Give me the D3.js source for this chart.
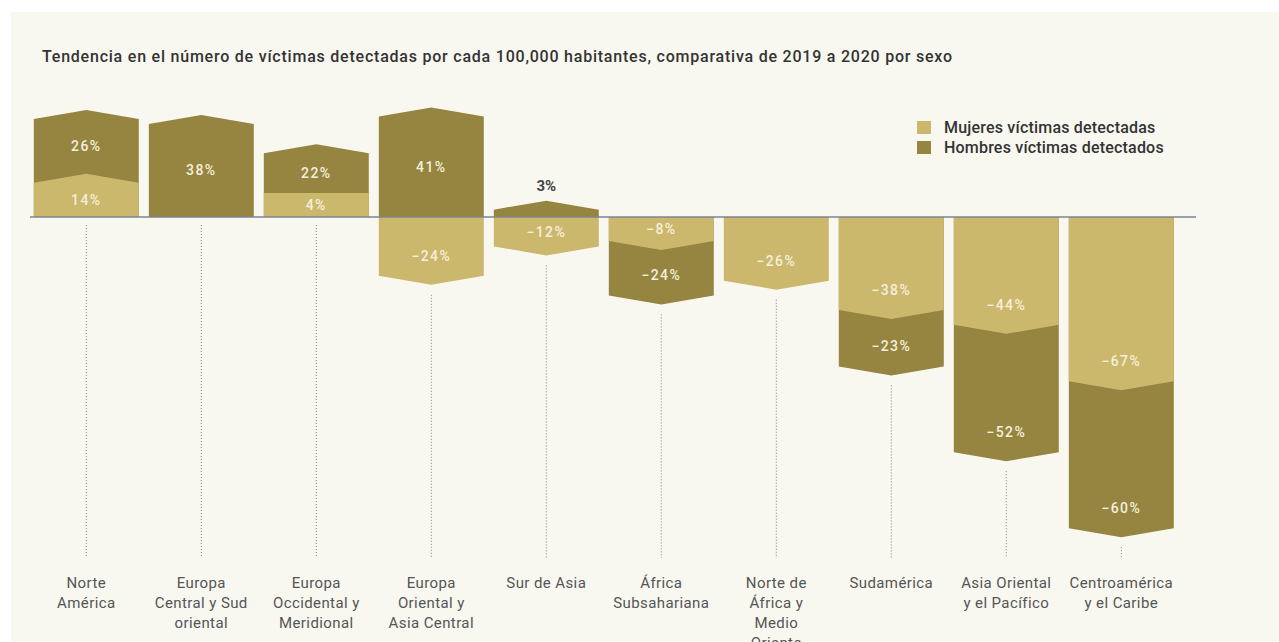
<!DOCTYPE html>
<html>
<head>
<meta charset="utf-8">
<script src="https://cdn.jsdelivr.net/npm/d3@7"></script>
<style>
  body { margin: 0; background: #ffffff; }
  svg text { font-family: Roboto, "Noto Sans", sans-serif; }
</style>
</head>
<body>
<div id="chart"></div>
<script>
const width = 1279;
const height = 642;

const categories = [
    "Norte América", "Europa Central y Sud oriental", "Europa Occidental y Meridional",
    "Europa Oriental y Asia Central", "Sur de Asia", "África Subsahariana",
    "Norte de África y Medio Oriente", "Sudamérica", "Asia Oriental y el Pacífico",
    "Centroamérica y el Caribe"
];
const categoryLines = [
    ["Norte", "América"], ["Europa", "Central y Sud", "oriental"], ["Europa", "Occidental y", "Meridional"],
    ["Europa", "Oriental y", "Asia Central"], ["Sur de Asia"], ["África", "Subsahariana"],
    ["Norte de", "África y", "Medio", "Oriente"], ["Sudamérica"], ["Asia Oriental", "y el Pacífico"],
    ["Centroamérica", "y el Caribe"]
];
// % change 2019 -> 2020 (null = not reported)
const women = [14, null, 4, -24, -12, -8, -26, -38, -44, -67];
const men   = [26, 38, 22, 41, 3, -24, null, -23, -52, -60];

const legendLabels = ["Mujeres víctimas detectadas", "Hombres víctimas detectados"];
const colWomen = "#ccb86c";
const colMen = "#968540";

const svg = d3.select("#chart").append("svg")
    .attr("width", width)
    .attr("height", height);

// panel
svg.append("rect")
    .attr("x", 11).attr("y", 12)
    .attr("width", width - 11).attr("height", height - 13)
    .attr("fill", "#f8f8f0");

svg.append("text")
    .attr("x", 42).attr("y", 62)
    .attr("font-size", 16).attr("font-weight", 500)
    .attr("fill", "#333")
    .attr("textLength", 910)
    .attr("lengthAdjust", "spacing")
    .text("Tendencia en el número de víctimas detectadas por cada 100,000 habitantes, comparativa de 2019 a 2020 por sexo");

const x = d3.scaleBand()
    .domain(categories)
    .range([28.8, 1178.8])
    .paddingInner(0.087)
    .paddingOuter(0.0435);

const y = d3.scaleLinear()
    .domain([-70, 45])
    .range([217 + 171.5, 217 - 110.25]);

const tip = 9;
const minLabelH = 24;

// build segments
const bars = categories.map((c, i) => {
    const w = women[i], m = men[i];
    const segs = [];
    // men: stacked on women when same sign
    if (m !== null) {
        const base = (w !== null && Math.sign(w) === Math.sign(m)) ? w : 0;
        segs.push({ key: "m", v: m, from: base, to: base + m, color: colMen });
    }
    if (w !== null) segs.push({ key: "w", v: w, from: 0, to: w, color: colWomen });
    return { cat: c, i, segs };
});

function shapePath(x0, x1, y0, yEdge, dir, pointed) {
    const xc = (x0 + x1) / 2;
    const p = d3.path();
    p.moveTo(x0, y0);
    p.lineTo(x0, yEdge);
    if (pointed) p.lineTo(xc, yEdge + dir * tip);
    p.lineTo(x1, yEdge);
    p.lineTo(x1, y0);
    p.closePath();
    return p.toString();
}

const fmt = v => (v < 0 ? "\u2212" + Math.abs(v) : v) + "%";

const g = svg.append("g");
bars.forEach(b => {
    const x0 = x(b.cat), x1 = x0 + x.bandwidth(), xc = x0 + x.bandwidth() / 2;
    const bg = g.append("g");
    let outerTip = y(0);
    b.segs.forEach(s => {
        const dir = s.to < 0 ? 1 : -1;
        let yEdge = y(s.to);
        let pointed = true;
        if (s.key === "w") {
            const h = Math.abs(y(s.to) - y(0));
            if (h < minLabelH) {
                pointed = h >= 15;
                yEdge = y(0) + dir * minLabelH;
            }
        }
        bg.append("path")
            .attr("d", shapePath(x0, x1, y(0), yEdge, dir, pointed))
            .attr("fill", s.color);
        s.yEdge = yEdge; s.dir = dir; s.pointed = pointed;
        if (dir > 0) outerTip = Math.max(outerTip, yEdge + tip);
    });
    // labels
    const wSeg = b.segs.find(s => s.key === "w");
    b.segs.forEach(s => {
        let inner = y(0);
        if (s.key === "m" && wSeg && s.from !== 0) inner = wSeg.yEdge + s.dir * (wSeg.pointed ? tip : 0);
        const h = Math.abs(s.yEdge - inner);
        let ly, outside = false;
        if (h < 15) {
            outside = true;
            ly = s.yEdge + s.dir * (tip + 15);
        } else if (s.dir < 0) {
            ly = (s.yEdge + inner) / 2;
        } else {
            ly = Math.max((s.yEdge + inner) / 2, s.yEdge - 20);
        }
        g.append("text")
            .attr("x", xc).attr("y", ly)
            .attr("dy", "0.35em")
            .attr("text-anchor", "middle")
            .attr("font-size", outside ? 15 : 14)
            .attr("font-weight", outside ? 700 : 500)
            .attr("letter-spacing", outside ? 0 : 1.4)
            .attr("fill", outside ? "#444" : "#f4efdc")
            .text(fmt(s.v));
    });
    // dotted leader
    const top = outerTip > y(0) ? outerTip + 10 : y(0) + 8;
    g.append("line")
        .attr("x1", xc).attr("x2", xc)
        .attr("y1", top).attr("y2", 558)
        .attr("stroke", "#808080")
        .attr("stroke-width", 1)
        .attr("stroke-dasharray", "1,2");
});

// zero line
svg.append("line")
    .attr("x1", 30).attr("x2", 1196)
    .attr("y1", y(0)).attr("y2", y(0))
    .attr("stroke", "#7d8590")
    .attr("stroke-width", 1.5);

// category labels
const lab = svg.append("g");
categories.forEach((c, i) => {
    const cx = x(c) + x.bandwidth() / 2;
    const t = lab.append("text")
        .attr("x", cx)
        .attr("y", 588)
        .attr("text-anchor", "middle")
        .attr("font-size", 15)
        .attr("letter-spacing", 0.4)
        .attr("fill", "#555");
    categoryLines[i].forEach((l, k) => {
        t.append("tspan")
            .attr("x", cx)
            .attr("dy", k === 0 ? 0 : 20)
            .text(l);
    });
});

// legend
const legend = svg.append("g").attr("transform", "translate(917,121)");
[colWomen, colMen].forEach((col, i) => {
    legend.append("rect")
        .attr("x", 0).attr("y", i * 20)
        .attr("width", 14).attr("height", 13)
        .attr("fill", col);
    legend.append("text")
        .attr("x", 27).attr("y", i * 20 + 12)
        .attr("font-size", 16).attr("font-weight", 500)
        .attr("letter-spacing", 0.2)
        .attr("fill", "#333")
        .text(legendLabels[i]);
});
</script>
</body>
</html>
